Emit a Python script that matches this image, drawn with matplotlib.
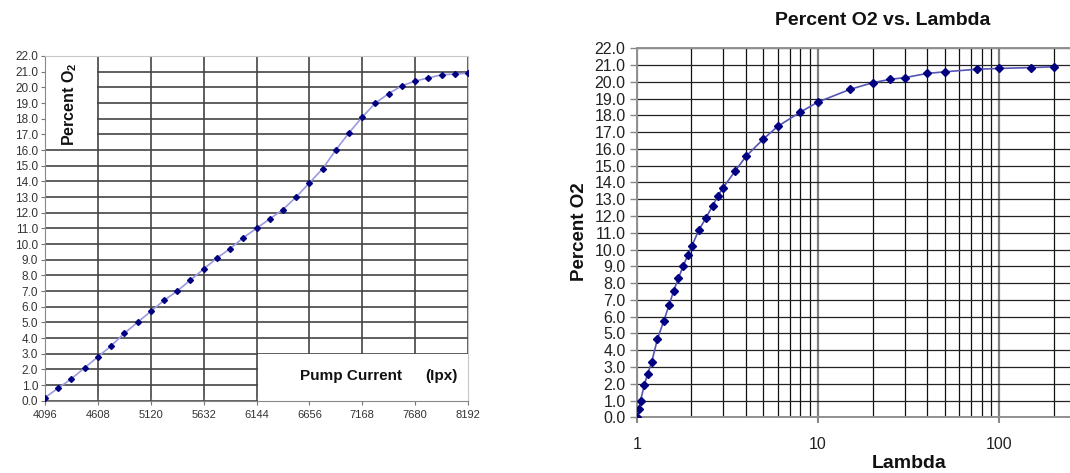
import numpy as np
import matplotlib
matplotlib.use("Agg")
import matplotlib.pyplot as plt
from matplotlib.patches import Rectangle
from matplotlib.ticker import FixedLocator, NullFormatter

plt.rcParams['font.family'] = ['Liberation Sans', 'DejaVu Sans']
plt.rcParams['mathtext.fontset'] = 'custom'
plt.rcParams['mathtext.rm'] = 'Liberation Sans'
plt.rcParams['mathtext.bf'] = 'Liberation Sans:bold'

# curva da bomba: corrente (Ipx) x percentual de O2
corrente = [4096, 4224, 4352, 4480, 4608, 4736, 4864, 4992, 5120, 5248, 5376,
            5504, 5632, 5760, 5888, 6016, 6144, 6272, 6400, 6528, 6656, 6784,
            6912, 7040, 7168, 7296, 7424, 7552, 7680, 7808, 7936, 8064, 8192]
o2_corrente = [0.2, 0.8, 1.4, 2.1, 2.8, 3.5, 4.3, 5.0, 5.7, 6.4, 7.0,
               7.7, 8.4, 9.1, 9.7, 10.4, 11.0, 11.6, 12.2, 13.0, 13.9, 14.8,
               16.0, 17.1, 18.1, 19.0, 19.6, 20.1, 20.4, 20.6, 20.8, 20.85, 20.9]
ticks_corrente = [4096, 4608, 5120, 5632, 6144, 6656, 7168, 7680, 8192]

# curva lambda x percentual de O2
lambdas = [1.0, 1.03, 1.05, 1.10, 1.15, 1.21, 1.30, 1.41, 1.51, 1.60, 1.70,
           1.80, 1.91, 2.01, 2.2, 2.41, 2.62, 2.8, 3.0, 3.5, 4.0, 5.0, 6.0,
           8.0, 10.0, 15.0, 20.0, 25.0, 30.0, 40.0, 50.0, 75.0, 100.0, 150.0, 200.0]
o2_lambda = [0.0, 0.5, 1.0, 1.9, 2.6, 3.3, 4.65, 5.75, 6.7, 7.55, 8.3,
             9.0, 9.65, 10.2, 11.15, 11.9, 12.6, 13.2, 13.7, 14.7, 15.55, 16.6, 17.35,
             18.2, 18.8, 19.55, 19.95, 20.15, 20.25, 20.5, 20.6, 20.75, 20.8, 20.85, 20.9]
ticks_o2 = [i * 1.0 for i in range(23)]

W, H = 1070, 473
fig = plt.figure(figsize=(W / 100, H / 100), dpi=100)

# ---------------- grafico da esquerda ----------------
ax1 = fig.add_axes([45 / W, 1 - 400.7 / H, 423 / W, 344.7 / H])
ax1.set_xlim(4096, 8192)
ax1.set_ylim(0, 22)
ax1.set_axisbelow(True)
ax1.set_xticks(ticks_corrente)
ax1.set_yticks(ticks_o2)
ax1.set_yticklabels([f'{v:.1f}' for v in ticks_o2])
ax1.grid(True, color='#444', lw=1.2)
ax1.tick_params(axis='y', direction='out', length=3, width=0.8, color='#777',
                labelsize=8.5, labelcolor='#333', pad=2)
ax1.tick_params(axis='x', direction='inout', length=6, width=0.8, color='#777',
                labelsize=8, labelcolor='#333', pad=4)
for s in ['left', 'bottom']:
    ax1.spines[s].set_color('#888')
for s in ['top', 'right']:
    ax1.spines[s].set_color('#c8c8c8')

# caixas brancas dos rotulos dentro da area
ax1.add_patch(Rectangle((4096, 16.1), 500, 5.9, facecolor='white', edgecolor='none', zorder=1))
ax1.add_patch(Rectangle((6160, 0), 2032, 2.95, facecolor='white', edgecolor='none', zorder=1))

ax1.plot(corrente, o2_corrente, color='#9a9ae0', lw=1.2, zorder=2)
ax1.plot(corrente, o2_corrente, ls='none', marker='D', ms=3, color='#000080', zorder=3)

ax1.text(4338, 18.95, r'Percent O$_{\mathbf{2}}$', rotation=90, ha='center', va='center',
         fontsize=11.5, fontweight='bold', color='#111', zorder=4)
ax1.text(6565, 1.6, 'Pump Current', ha='left', va='center',
         fontsize=11, fontweight='bold', color='#111', zorder=4)
ax1.text(7782, 1.6, '(Ipx)', ha='left', va='center',
         fontsize=11, fontweight='bold', color='#111', zorder=4)

# ---------------- grafico da direita (escala log) ----------------
ax2 = fig.add_axes([636.7 / W, 1 - 417.3 / H, (W - 636.7) / W, 369 / H])
ax2.set_xscale('log')
ax2.set_xlim(1, 245)
ax2.set_ylim(0, 22)
ax2.set_axisbelow(True)
ax2.set_yticks(ticks_o2)
ax2.set_yticklabels([f'{v:.1f}' for v in ticks_o2])
ax2.xaxis.set_major_locator(FixedLocator([1, 10, 100]))
ax2.set_xticklabels(['1', '10', '100'])
menores = [2, 3, 4, 5, 6, 7, 8, 9, 20, 30, 40, 50, 60, 70, 80, 90, 200]
ax2.xaxis.set_minor_locator(FixedLocator(menores))
ax2.xaxis.set_minor_formatter(NullFormatter())
ax2.grid(True, which='major', axis='y', color='#222', lw=0.9)
ax2.grid(True, which='major', axis='x', color='#808080', lw=1.6)
ax2.grid(True, which='minor', axis='x', color='#111', lw=0.9)
ax2.tick_params(axis='y', direction='out', length=5, width=1, color='#888',
                labelsize=11.5, labelcolor='#222', pad=3)
ax2.tick_params(axis='x', which='major', direction='out', length=4, width=1.5, color='#888',
                labelsize=11.5, labelcolor='#222', pad=10)
ax2.tick_params(axis='x', which='minor', length=0)
for s in ['left', 'bottom', 'top']:
    ax2.spines[s].set_color('#909090')
    ax2.spines[s].set_linewidth(1.4)
ax2.spines['right'].set_visible(False)

ax2.plot(lambdas, o2_lambda, color='#5555b5', lw=1.2, zorder=2)
ax2.plot(lambdas, o2_lambda, ls='none', marker='D', ms=4.5, color='#000080', zorder=3)

fig.text(883 / W, 1 - 20.7 / H, 'Percent O2 vs. Lambda', ha='center', va='center',
         fontsize=14, fontweight='bold', color='#111')
fig.text(579 / W, 1 - 232 / H, 'Percent O2', rotation=90, ha='center', va='center',
         fontsize=13.5, fontweight='bold', color='#111')
fig.text(908.7 / W, 1 - 463 / H, 'Lambda', ha='center', va='center',
         fontsize=14, fontweight='bold', color='#111')

fig.savefig('out.png', dpi=100, facecolor='white')
